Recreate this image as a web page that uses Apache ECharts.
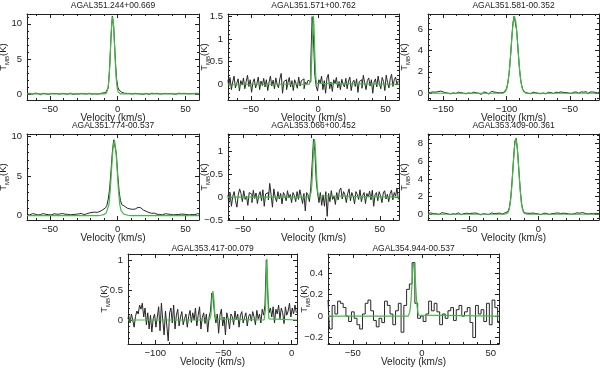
<!DOCTYPE html>
<html>
<head>
<meta charset="utf-8">
<script src="https://cdn.jsdelivr.net/npm/echarts@6.0.0/dist/echarts.min.js"></script>
<style>
html, body { margin: 0; padding: 0; background: #fff; }
#chart { width: 600px; height: 368px; }
</style>
</head>
<body>
<div id="chart"></div>
<script>
// source names (panel titles)
var names = ['AGAL351.244+00.669', 'AGAL351.571+00.762', 'AGAL351.581-00.352',
  'AGAL351.774-00.537', 'AGAL353.066+00.452', 'AGAL353.409-00.361',
  'AGAL353.417-00.079', 'AGAL354.944-00.537'];

// velocity of first channel and channel width (km/s)
var vStart = [-67, -67, -162, -67, -61, -80, -120, -68];
var vStep = [1, 1, 1, 1, 1, 1, 1, 2];

// observed spectra, T_MB (K)
var spec1 = [0.05, -0.08, 0.1, 0.02, -0.05, 0.08, 0.12, -0.03, 0.06, 0.0,
  -0.1, 0.05, 0.09, -0.04, 0.03, 0.11, -0.06, 0.02, 0.07, -0.02,
  0.04, -0.08, 0.06, 0.1, -0.03, 0.0, 0.08, -0.05, 0.03, 0.09,
  -0.04, 0.05, 0.12, 0.01, -0.07, 0.06, 0.02, 0.1, -0.02, 0.04,
  0.08, -0.05, 0.03, 0.13, 0.0, -0.04, 0.09, 0.05, -0.02, 0.11,
  0.04, 0.08, -0.03, 0.1, 0.06, 0.02, 0.14, 0.1, 0.18, 0.25,
  0.9, 3.6, 8.0, 11.1, 9.6, 5.7, 2.4, 1.0, 0.55, 0.35,
  0.25, 0.15, 0.1, 0.04, 0.08, -0.02, 0.06, 0.1, 0.0, 0.05,
  0.09, -0.04, 0.03, 0.07, 0.0, 0.1, -0.05, 0.04, 0.08, 0.02,
  -0.06, 0.05, 0.1, 0.01, 0.06, -0.03, 0.09, 0.04, 0.0, 0.07,
  0.03, -0.05, 0.08, 0.12, 0.02, -0.02, 0.06, 0.1, 0.0, 0.04,
  -0.04, 0.07, 0.11, 0.03, 0.06, -0.03, 0.09, 0.14, 0.05, 0.1,
  0.02, 0.12, 0.06, 0.15, 0.08, 0.03, 0.1, 0.05];
var spec2 = [0.1, -0.05, 0.15, -0.12, 0.05, 0.18, -0.08, 0.02, 0.12, -0.15,
  0.08, -0.02, 0.14, -0.1, 0.06, 0.2, -0.05, 0.1, -0.18, 0.04,
  0.12, -0.08, 0.02, 0.16, -0.12, 0.07, -0.03, 0.13, -0.06, 0.1,
  -0.14, 0.05, 0.18, -0.04, 0.09, -0.1, 0.14, 0.0, -0.08, 0.12,
  0.24, -0.2, 0.06, 0.1, -0.12, 0.03, 0.15, -0.06, 0.08, -0.14,
  0.1, 0.02, -0.09, 0.16, -0.04, 0.08, 0.12, -0.1, 0.05, 0.0,
  0.09, 0.05, 0.5, 1.5, 1.0, 0.2, -0.05, -0.15, 0.1, 0.03,
  0.18, -0.12, 0.08, -0.2, 0.14, 0.22, -0.1, 0.05, -0.16, 0.1,
  0.02, 0.15, -0.08, 0.06, -0.12, 0.11, 0.0, -0.06, 0.13, -0.1,
  0.07, 0.16, -0.14, 0.04, 0.09, -0.05, 0.12, -0.18, 0.06, 0.1,
  -0.09, 0.2, 0.03, -0.12, 0.08, 0.14, -0.04, 0.1, -0.2, 0.05,
  0.12, -0.06, 0.18, 0.0, -0.1, 0.15, 0.06, -0.14, 0.2, 0.04,
  -0.08, 0.12, 0.22, -0.05, 0.1, 0.16, -0.02, 0.08];
var spec3 = [0.05, -0.1, 0.08, 0.0, 0.12, -0.05, 0.1, 0.02, 0.15, 0.06,
  0.2, 0.28, 0.12, 0.22, 0.05, 0.14, 0.0, 0.08, -0.06, 0.1,
  0.04, 0.12, -0.03, 0.07, 0.1, -0.08, 0.05, 0.13, 0.0, 0.06,
  -0.05, 0.09, 0.03, 0.14, -0.02, 0.06, 0.1, -0.07, 0.04, 0.12,
  0.0, 0.08, -0.1, 0.05, 0.11, -0.04, 0.07, 0.02, -0.08, 0.1,
  0.18, 0.05, 0.12, 0.22, 0.08, 0.15, 0.03, 0.1, 0.05, 0.08,
  0.1, 0.18, 0.42, 0.95, 1.85, 3.2, 4.9, 6.5, 7.2, 7.1,
  5.9, 4.25, 2.6, 1.4, 0.68, 0.3, 0.15, 0.08, 0.12, 0.0,
  0.09, -0.04, 0.06, 0.1, -0.02, 0.05, 0.12, 0.0, 0.07, -0.05,
  0.08, 0.03, 0.11, -0.06, 0.04, 0.09, 0.0, 0.06, 0.13, -0.03,
  0.05, 0.1, -0.05, 0.07, 0.02, 0.12, 0.0, 0.08, -0.04, 0.06,
  0.1, 0.02, 0.14, -0.02, 0.06, 0.09, -0.05, 0.12, 0.04, 0.0,
  0.08, 0.13, -0.03, 0.1, 0.05, 0.15, -0.04, 0.07, 0.11, 0.02,
  0.12, -0.02, 0.08, 0.14, 0.03, 0.1];
var spec4 = [0.15, 0.22, 0.1, 0.18, 0.25, 0.12, 0.2, 0.16, 0.08, 0.21,
  0.14, 0.19, 0.26, 0.1, 0.17, 0.22, 0.13, 0.2, 0.09, 0.16,
  0.24, 0.12, 0.18, 0.1, 0.2, 0.15, 0.27, 0.13, 0.19, 0.08,
  0.17, 0.23, 0.11, 0.2, 0.14, 0.25, 0.18, 0.1, 0.22, 0.16,
  0.28, 0.2, 0.14, 0.3, 0.22, 0.26, 0.35, 0.28, 0.4, 0.36,
  0.45, 0.5, 0.42, 0.6, 0.55, 0.7, 0.75, 0.9, 1.0, 1.3,
  2.1, 3.4, 5.6, 8.0, 9.6, 9.5, 7.8, 5.2, 3.1, 1.9,
  1.4, 1.15, 1.2, 1.05, 0.95, 1.0, 0.85, 0.9, 0.8, 0.75,
  0.85, 0.95, 1.05, 1.1, 1.0, 0.85, 0.7, 0.6, 0.55, 0.48,
  0.4, 0.35, 0.3, 0.25, 0.32, 0.2, 0.18, 0.26, 0.15, 0.22,
  0.1, 0.18, 0.24, 0.12, 0.2, 0.08, 0.16, 0.22, 0.1, 0.19,
  0.13, 0.25, 0.15, 0.08, 0.2, 0.12, 0.18, 0.27, 0.14, 0.22,
  0.1, 0.2, 0.15, 0.24, 0.12, 0.18, 0.26, 0.2];
var spec5 = [0.05, -0.15, 0.1, -0.2, 0.02, 0.12, -0.08, -0.22, 0.05, 0.18,
  0.08, -0.1, 0.14, -0.05, 0.02, -0.18, 0.1, 0.06, -0.12, 0.15,
  -0.03, 0.09, -0.14, 0.04, 0.12, -0.08, 0.16, -0.2, 0.07, 0.1,
  -0.06, 0.3, 0.05, -0.22, 0.18, 0.0, -0.1, 0.12, -0.04, 0.08,
  -0.15, 0.1, 0.04, -0.08, 0.14, -0.02, 0.06, -0.12, 0.1, 0.03,
  -0.1, 0.12, -0.05, 0.16, 0.02, -0.14, 0.08, -0.3, 0.1, 0.05,
  -0.1, 0.2, 0.72, 1.27, 1.0, 0.35, 0.08, -0.12, 0.1, -0.18,
  0.05, -0.2, 0.12, -0.42, 0.08, -0.1, 0.14, -0.05, 0.02, -0.16,
  0.1, -0.06, 0.15, 0.2, -0.04, 0.12, 0.05, -0.12, 0.08, 0.18,
  -0.08, 0.1, 0.02, -0.15, 0.12, 0.06, -0.05, 0.16, -0.1, 0.04,
  0.1, -0.14, 0.08, 0.0, 0.13, -0.06, 0.15, -0.2, 0.05, 0.1,
  -0.08, 0.12, 0.03, -0.12, 0.09, 0.14, -0.04, 0.06, -0.1, 0.08,
  0.15, -0.06, 0.1, 0.02, 0.2, -0.05];
var spec6 = [0.1, 0.02, 0.15, -0.05, 0.08, 0.2, 0.05, 0.12, -0.02, 0.1,
  0.18, 0.06, 0.12, 0.0, 0.08, 0.14, -0.04, 0.1, 0.05, 0.13,
  0.02, 0.09, 0.16, 0.04, -0.05, 0.1, 0.07, 0.0, 0.12, 0.05,
  0.08, -0.03, 0.11, 0.06, 0.14, 0.0, 0.09, 0.04, -0.06, 0.1,
  0.05, 0.12, 0.02, 0.08, -0.04, 0.1, 0.15, 0.03, 0.07, 0.0,
  0.1, 0.05, 0.13, 0.08, 0.02, 0.12, 0.18, 0.1, 0.3, 0.75,
  1.85, 3.8, 6.2, 8.3, 8.6, 7.1, 4.75, 2.55, 1.1, 0.4,
  0.15, 0.08, 0.12, -0.02, 0.1, 0.05, 0.14, 0.0, 0.08, 0.11,
  0.03, 0.09, -0.05, 0.07, 0.12, 0.02, 0.1, 0.06, -0.03, 0.13,
  0.08, 0.0, 0.11, 0.05, 0.15, 0.02, 0.09, -0.04, 0.12, 0.06,
  0.1, 0.18, 0.04, 0.08, 0.0, 0.13, 0.06, 0.1, 0.16, 0.03,
  0.12, 0.07, 0.2, 0.05, 0.1, 0.15, 0.02, 0.18, 0.08, 0.12,
  0.06, 0.2, 0.1, 0.15, 0.08];
var spec7 = [0.02, 0.08, -0.05, 0.1, 0.0, -0.12, 0.06, 0.15, 0.1, 0.25,
  0.18, 0.28, 0.05, 0.2, -0.08, 0.12, -0.15, 0.08, -0.2, 0.02,
  0.1, -0.12, 0.05, 0.22, -0.18, 0.28, 0.0, -0.25, 0.15, -0.1,
  -0.35, 0.12, 0.2, -0.05, 0.25, -0.15, 0.08, 0.18, -0.1, 0.05,
  0.14, -0.08, 0.02, 0.1, -0.12, 0.06, 0.16, -0.04, 0.12, 0.0,
  0.2, -0.1, 0.08, 0.22, -0.15, 0.04, 0.12, -0.06, 0.1, -0.2,
  0.05, 0.15, 0.45, 0.38, 0.1, -0.05, 0.1, -0.22, 0.08, 0.18,
  -0.1, 0.05, -0.25, 0.12, 0.02, -0.15, 0.1, 0.06, -0.08, 0.15,
  0.0, 0.1, -0.12, 0.08, 0.14, -0.05, 0.04, 0.12, -0.1, 0.06,
  0.1, -0.02, 0.14, 0.05, -0.08, 0.16, 0.02, 0.1, -0.05, 0.18,
  0.08, 0.25, 1.0, 0.45, 0.12, 0.2, 0.05, 0.22, -0.05, 0.18,
  0.1, 0.25, 0.02, 0.2, 0.12, -0.06, 0.22, 0.08, 0.15, 0.28,
  0.05, 0.2, 0.1, 0.25, 0.12];
var spec8 = [0.15, -0.12, 0.1, 0.02, 0.14, 0.12, 0.08, 0.0, -0.05, 0.04,
  -0.02, -0.08, -0.12, 0.02, 0.12, 0.15, 0.05, -0.04, -0.1, -0.02,
  -0.06, 0.14, 0.1, 0.02, -0.08, 0.05, 0.12, -0.15, 0.1, 0.25,
  0.3, 0.5, 0.12, -0.02, 0.0, -0.05, 0.02, 0.14, 0.05, 0.12,
  0.04, -0.08, 0.02, -0.02, 0.05, 0.08, -0.04, 0.06, 0.1, 0.0,
  0.04, 0.08, -0.06, -0.2, 0.1, 0.02, 0.06, -0.05, 0.12, -0.08,
  0.15, 0.08, -0.06];

// gaussian fits, [velocity, T_MB]
var fit1 = [[-67, 0], [-9.8, 0], [-8.8, 0.04], [-8.3, 0.12], [-7.8, 0.32], [-7.3, 0.73], [-6.8, 1.49],
  [-6.3, 2.74], [-5.8, 4.52], [-5.3, 6.68], [-4.8, 8.81], [-4.3, 10.41], [-3.8, 11.0], [-3.3, 10.41],
  [-2.8, 8.81], [-2.3, 6.68], [-1.8, 4.52], [-1.3, 2.74], [-0.8, 1.49], [-0.3, 0.73], [0.2, 0.32],
  [0.7, 0.12], [1.2, 0.04], [2.2, 0], [60, 0]];
var fit2 = [[-67, 0], [-6.6, 0], [-6.1, 0.02], [-5.6, 0.1], [-5.1, 0.32], [-4.6, 0.76], [-4.1, 1.28],
  [-3.6, 1.52], [-3.1, 1.28], [-2.6, 0.76], [-2.1, 0.32], [-1.6, 0.1], [-1.1, 0.02], [-0.6, 0], [60, 0]];
var fit3 = [[-162, 0], [-102.7, 0], [-101.7, 0.06], [-100.7, 0.19], [-99.7, 0.5], [-98.7, 1.13], [-97.7, 2.2],
  [-96.7, 3.7], [-95.7, 5.36], [-94.7, 6.69], [-93.7, 7.2], [-92.7, 6.69], [-91.7, 5.36], [-90.7, 3.7],
  [-89.7, 2.2], [-88.7, 1.13], [-87.7, 0.5], [-86.7, 0.19], [-85.7, 0.06], [-84.7, 0], [-27, 0]];
var fit4 = [[-67, 0], [-14.5, 0], [-12.5, 0.05], [-10.5, 0.12], [-9.5, 0.2], [-8.5, 0.35], [-7.5, 0.6],
  [-6.5, 1.4], [-5.5, 3.3], [-4.5, 6.0], [-3.5, 8.53], [-2.5, 9.6], [-1.5, 8.53], [-0.5, 6.0], [0.5, 3.3],
  [1.5, 1.4], [2.5, 0.6], [3.5, 0.35], [4.5, 0.2], [5.5, 0.12], [7.5, 0.05], [9.5, 0], [60, 0]];
var fit5 = [[-61, 0], [-1.3, 0], [-0.8, 0.03], [-0.3, 0.1], [0.2, 0.24], [0.7, 0.5], [1.2, 0.84], [1.7, 1.15],
  [2.2, 1.27], [2.7, 1.15], [3.2, 0.84], [3.7, 0.5], [4.2, 0.24], [4.7, 0.1], [5.2, 0.03], [5.7, 0], [64, 0]];
var fit6 = [[-80, 0], [-24.3, 0], [-23.3, 0.02], [-22.3, 0.11], [-21.3, 0.42], [-20.3, 1.26], [-19.3, 2.98],
  [-18.3, 5.37], [-17.3, 7.64], [-16.3, 8.6], [-15.3, 7.64], [-14.3, 5.37], [-13.3, 2.98], [-12.3, 1.26],
  [-11.3, 0.42], [-10.3, 0.11], [-9.3, 0.02], [-8.3, 0], [44, 0]];
var fit7 = [[-120, 0], [-60.2, 0], [-59.7, 0.02], [-59.2, 0.08], [-58.7, 0.22], [-58.2, 0.4], [-57.7, 0.48],
  [-57.2, 0.4], [-56.7, 0.22], [-56.2, 0.08], [-55.7, 0.02], [-55.2, 0], [-20.1, 0], [-19.6, 0.02],
  [-19.1, 0.19], [-18.6, 0.68], [-18.1, 1.02], [-17.6, 0.68], [-17.1, 0.19], [-16.6, 0.02], [-16.1, 0], [4, 0]];
var fit8 = [[-68, 0], [-9.8, 0], [-9.3, 0.01], [-8.8, 0.035], [-8.3, 0.08], [-7.8, 0.15], [-7.3, 0.26],
  [-6.8, 0.37], [-6.3, 0.46], [-5.8, 0.5], [-5.3, 0.46], [-4.8, 0.37], [-4.3, 0.26], [-3.8, 0.15],
  [-3.3, 0.08], [-2.8, 0.035], [-2.3, 0.01], [-1.8, 0], [56, 0]];

// tick labels
var xTicks = [[-50, 0, 50], [-50, 0, 50], [-150, -100, -50], [-50, 0, 50],
  [-50, 0, 50], [-50, 0], [-100, -50, 0], [-50, 0, 50]];
var yTicks = [[0, 5, 10], [0, 0.5, 1, 1.5], [0, 2, 4, 6], [0, 5, 10],
  [-0.5, 0, 0.5, 1], [0, 2, 4, 6, 8], [0, 0.5, 1], [-0.2, 0, 0.2, 0.4]];

var specs = [spec1, spec2, spec3, spec4, spec5, spec6, spec7, spec8];
var fits = [fit1, fit2, fit3, fit4, fit5, fit6, fit7, fit8];
var histo = [false, true, false, false, true, false, true, true];

// axis ranges and panel boxes
var xRange = [[-67, 60], [-67, 60], [-162, -27], [-67, 60], [-61, 64], [-80, 44], [-120, 4], [-68, 56]];
var yRange = [[-0.86, 11.4], [-0.35, 1.56], [-0.63, 7.4], [-0.55, 10.34], [-0.5, 1.38],
  [-0.65, 9.1], [-0.4, 1.1], [-0.26, 0.58]];
var yMinorStep = [1, 0.1, 0.5, 1, 0.1, 0.5, 0.1, 0.05];
var boxes = [[27, 14, 172, 86], [228, 14, 171, 86], [428, 14, 171, 86],
  [27, 134, 172, 86], [228, 134, 171, 86], [428, 134, 171, 86],
  [128, 254, 169, 90], [328, 254, 171, 90]];
var titleTop = [1, 1, 1, 121, 121, 121, 244, 244];

var FONT = 'Liberation Sans';
var INK = '#222';

function minorTicks(min, max, step) {
  var out = [];
  for (var k = Math.ceil(min / step - 1e-9); k * step <= max + 1e-9; k++) {
    out.push(+(k * step).toFixed(6));
  }
  return out;
}

function fmt(v) {
  return (v < 0 ? '\u2212' : '') + Math.abs(v);
}

var chart = echarts.init(document.getElementById('chart'), null, { renderer: 'canvas' });

var grid = [], xAxis = [], yAxis = [], series = [], title = [];

names.forEach(function (name, i) {
  var b = boxes[i];
  grid.push({ left: b[0], top: b[1], width: b[2], height: b[3], outerBoundsMode: 'none', show: false });
  title.push({
    text: name, left: b[0] + b[2] / 2, top: titleTop[i], textAlign: 'center', padding: 0,
    textStyle: { fontSize: 8.5, fontWeight: 'normal', color: INK, fontFamily: FONT }
  });

  var xm = minorTicks(xRange[i][0], xRange[i][1], 10);
  var ym = minorTicks(yRange[i][0], yRange[i][1], yMinorStep[i]);
  var lineSt = { color: INK, width: 1 };
  var xb = { gridIndex: i, type: 'value', min: xRange[i][0], max: xRange[i][1], splitLine: { show: false } };
  var yb = { gridIndex: i, type: 'value', min: yRange[i][0], max: yRange[i][1], splitLine: { show: false } };

  xAxis.push(Object.assign({}, xb, {
    position: 'bottom',
    axisLine: { onZero: false, lineStyle: lineSt },
    axisTick: { inside: true, length: 4, customValues: xTicks[i], lineStyle: lineSt },
    axisLabel: { customValues: xTicks[i], formatter: fmt, margin: 4, fontSize: 9.5, color: INK, fontFamily: FONT },
    name: 'Velocity (km/s)', nameLocation: 'middle', nameGap: 13, nameMoveOverlap: false,
    nameTextStyle: { fontSize: 10, color: INK, fontFamily: FONT }
  }));
  xAxis.push(Object.assign({}, xb, {
    position: 'bottom', axisLine: { show: false, onZero: false },
    axisTick: { inside: true, length: 2, customValues: xm, lineStyle: lineSt }, axisLabel: { show: false }
  }));
  xAxis.push(Object.assign({}, xb, {
    position: 'top', axisLine: { onZero: false, lineStyle: lineSt },
    axisTick: { inside: true, length: 4, customValues: xTicks[i], lineStyle: lineSt }, axisLabel: { show: false }
  }));
  xAxis.push(Object.assign({}, xb, {
    position: 'top', axisLine: { show: false, onZero: false },
    axisTick: { inside: true, length: 2, customValues: xm, lineStyle: lineSt }, axisLabel: { show: false }
  }));

  yAxis.push(Object.assign({}, yb, {
    position: 'left',
    axisLine: { onZero: false, lineStyle: lineSt },
    axisTick: { inside: true, length: 4, customValues: yTicks[i], lineStyle: lineSt },
    axisLabel: { customValues: yTicks[i], formatter: fmt, margin: 5, fontSize: 9.5, color: INK, fontFamily: FONT },
    name: '{t|T}{s|MB}{t|(K)}', nameLocation: 'middle', nameGap: 17, nameRotate: 90, nameMoveOverlap: false,
    nameTextStyle: {
      color: INK, fontFamily: FONT,
      rich: {
        t: { fontSize: 9.5, color: INK, fontFamily: FONT, lineHeight: 13, verticalAlign: 'middle' },
        s: { fontSize: 6, color: INK, fontFamily: FONT, verticalAlign: 'bottom' }
      }
    }
  }));
  yAxis.push(Object.assign({}, yb, {
    position: 'left', axisLine: { show: false, onZero: false },
    axisTick: { inside: true, length: 2, customValues: ym, lineStyle: lineSt }, axisLabel: { show: false }
  }));
  yAxis.push(Object.assign({}, yb, {
    position: 'right', axisLine: { onZero: false, lineStyle: lineSt },
    axisTick: { inside: true, length: 4, customValues: yTicks[i], lineStyle: lineSt }, axisLabel: { show: false }
  }));
  yAxis.push(Object.assign({}, yb, {
    position: 'right', axisLine: { show: false, onZero: false },
    axisTick: { inside: true, length: 2, customValues: ym, lineStyle: lineSt }, axisLabel: { show: false }
  }));

  var pts = specs[i].map(function (t, j) { return [vStart[i] + j * vStep[i], t]; });
  series.push({
    type: 'line', xAxisIndex: 4 * i, yAxisIndex: 4 * i, data: pts,
    symbol: 'none', step: histo[i] ? 'middle' : false, silent: true,
    lineStyle: { color: '#262626', width: 1 }
  });
  series.push({
    type: 'line', xAxisIndex: 4 * i, yAxisIndex: 4 * i, data: fits[i],
    symbol: 'none', silent: true,
    lineStyle: { color: '#44b844', width: 1.2 }
  });
});

chart.setOption({
  backgroundColor: '#fff',
  animation: false,
  title: title,
  grid: grid,
  xAxis: xAxis,
  yAxis: yAxis,
  series: series
});
</script>
</body>
</html>
